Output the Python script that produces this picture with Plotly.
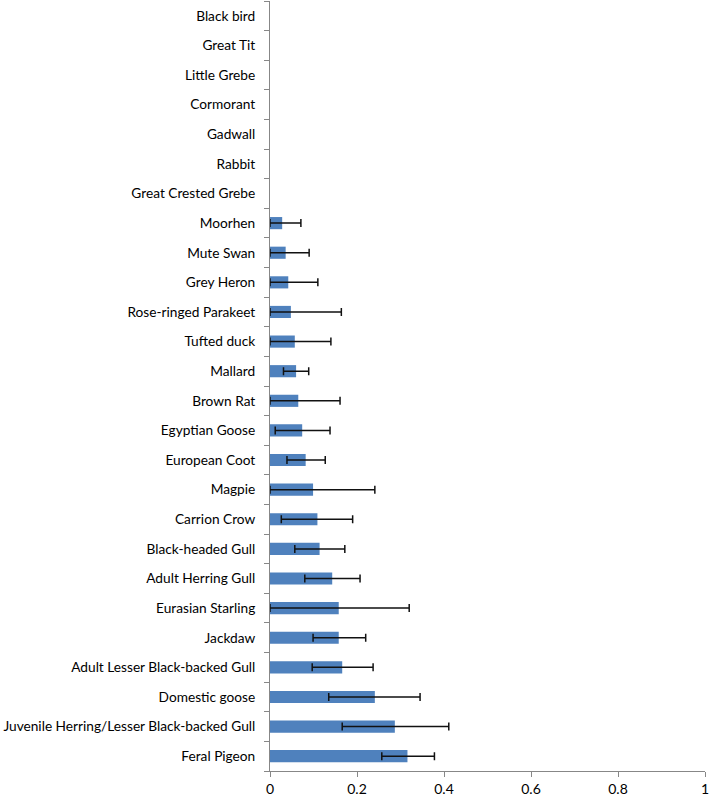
import plotly.graph_objects as go

# Categories listed from bottom to top
categories = [
    "Feral Pigeon",
    "Juvenile Herring/Lesser Black-backed Gull",
    "Domestic goose",
    "Adult Lesser Black-backed Gull",
    "Jackdaw",
    "Eurasian Starling",
    "Adult Herring Gull",
    "Black-headed Gull",
    "Carrion Crow",
    "Magpie",
    "European Coot",
    "Egyptian Goose",
    "Brown Rat",
    "Mallard",
    "Tufted duck",
    "Rose-ringed Parakeet",
    "Grey Heron",
    "Mute Swan",
    "Moorhen",
    "Great Crested Grebe",
    "Rabbit",
    "Gadwall",
    "Cormorant",
    "Little Grebe",
    "Great Tit",
    "Black bird",
]

values = [0.316, 0.287, 0.241, 0.166, 0.158, 0.158, 0.143, 0.114, 0.109, 0.099,
          0.082, 0.074, 0.065, 0.060, 0.057, 0.048, 0.042, 0.036, 0.028,
          0, 0, 0, 0, 0, 0, 0]

upper = [0.378, 0.411, 0.345, 0.237, 0.220, 0.320, 0.207, 0.172, 0.190, 0.241,
         0.127, 0.138, 0.161, 0.089, 0.140, 0.164, 0.110, 0.090, 0.071,
         None, None, None, None, None, None, None]

lower = [0.257, 0.166, 0.135, 0.097, 0.099, 0.0, 0.080, 0.057, 0.026, 0.0,
         0.039, 0.012, 0.0, 0.031, 0.0, 0.0, 0.0, 0.0, 0.0,
         None, None, None, None, None, None, None]

x_ticks = [0, 0.2, 0.4, 0.6, 0.8, 1]
x_tick_labels = ["0", "0.2", "0.4", "0.6", "0.8", "1"]

# Only categories that have error bars
idx = [i for i, u in enumerate(upper) if u is not None]
err_y = [categories[i] for i in idx]
err_x = [values[i] for i in idx]
err_plus = [upper[i] - values[i] for i in idx]
err_minus = [values[i] - lower[i] for i in idx]

fig = go.Figure()
fig.add_trace(
    go.Bar(
        x=values,
        y=categories,
        orientation="h",
        marker=dict(color="#4F81BD", line=dict(width=0)),
        hoverinfo="x+y",
    )
)
fig.add_trace(
    go.Scatter(
        x=err_x,
        y=err_y,
        mode="markers",
        marker=dict(opacity=0, size=1),
        error_x=dict(
            type="data",
            symmetric=False,
            array=err_plus,
            arrayminus=err_minus,
            color="#111111",
            thickness=1.5,
            width=4,
        ),
        hoverinfo="skip",
    )
)

axis_col = "#878787"
fig.update_layout(
    width=709,
    height=799,
    margin=dict(l=270, r=4, t=1, b=28, autoexpand=False),
    paper_bgcolor="white",
    plot_bgcolor="white",
    bargap=0.59,
    showlegend=False,
    font=dict(family="Lato, Carlito, Calibri, sans-serif", size=13.7, color="#000000"),
    xaxis=dict(
        range=[0, 1],
        tickvals=x_ticks,
        ticktext=x_tick_labels,
        showgrid=False,
        zeroline=False,
        showline=True,
        linecolor=axis_col,
        linewidth=1,
        ticks="outside",
        ticklen=5,
        tickcolor=axis_col,
        tickfont=dict(size=14),
        ticklabeloverflow="allow",
        automargin=False,
        fixedrange=True,
    ),
    yaxis=dict(
        categoryorder="array",
        categoryarray=categories,
        range=[-0.5, len(categories) - 0.5],
        showgrid=False,
        zeroline=False,
        showline=True,
        linecolor=axis_col,
        linewidth=1,
        ticks="outside",
        ticklen=5,
        tickcolor=axis_col,
        tickson="boundaries",
        ticklabelstandoff=11,
        tickfont=dict(size=13.7),
        automargin=False,
        fixedrange=True,
    ),
)

fig.write_html(
    "out.html",
    config={"displayModeBar": False},
    post_script="document.body.style.margin='0';",
)
